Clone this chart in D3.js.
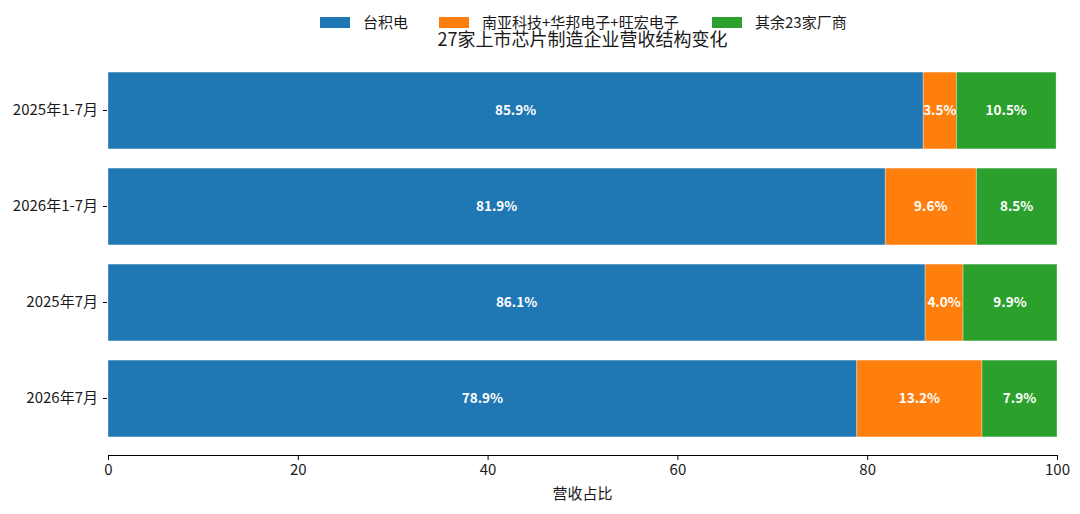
<!DOCTYPE html>
<html>
<head>
<meta charset="utf-8">
<script src="https://cdn.jsdelivr.net/npm/d3@7"></script>
<style>
  body { margin: 0; background: #fff; }
  text { font-family: "Noto Sans CJK SC", "Noto Sans", sans-serif; }
</style>
</head>
<body>
<div id="chart"></div>
<script>
// data
var periods = ["2025年1-7月", "2026年1-7月", "2025年7月", "2026年7月"];
var seriesNames = ["台积电", "南亚科技+华邦电子+旺宏电子", "其余23家厂商"];
var tsmc = [85.9, 81.9, 86.1, 78.9];
var memoryTrio = [3.5, 9.6, 4.0, 13.2];
var others = [10.5, 8.5, 9.9, 7.9];
var xTicks = [0, 20, 40, 60, 80, 100];

var colors = ["#1f77b4", "#ff7f0e", "#2ca02c"];
var W = 1080, H = 514;

var rows = periods.map(function (p, i) {
  return { period: p, s0: tsmc[i], s1: memoryTrio[i], s2: others[i] };
});
var stacked = d3.stack().keys(["s0", "s1", "s2"])(rows);

var svg = d3.select("#chart").append("svg")
  .attr("width", W)
  .attr("height", H);

var x = d3.scaleLinear().domain([0, 100]).range([108, 1057]);
var y = d3.scaleBand().domain(periods)
  .range([62.5, 446.5])
  .paddingInner(0.2)
  .paddingOuter(0.1);

// bars
var layers = svg.selectAll("g.layer").data(stacked).enter()
  .append("g")
  .attr("class", "layer")
  .attr("fill", function (d, i) { return colors[i]; });

layers.selectAll("rect").data(function (d) { return d; }).enter()
  .append("rect")
  .attr("x", function (d) { return x(d[0]); })
  .attr("y", function (d) { return y(d.data.period); })
  .attr("width", function (d) { return x(d[1]) - x(d[0]); })
  .attr("height", y.bandwidth())
  .attr("stroke", "#fff")
  .attr("stroke-opacity", 0.4)
  .attr("stroke-width", 0.8);

// value labels
layers.selectAll("text").data(function (d) { return d; }).enter()
  .append("text")
  .attr("x", function (d) { return (x(d[0]) + x(d[1])) / 2; })
  .attr("y", function (d) { return y(d.data.period) + y.bandwidth() / 2; })
  .attr("dy", "0.35em")
  .attr("text-anchor", "middle")
  .attr("fill", "#fff")
  .attr("font-weight", "bold")
  .attr("font-size", 13.5)
  .text(function (d) { return (d[1] - d[0]).toFixed(1) + "%"; });

// x axis
var xAxis = svg.append("g")
  .attr("transform", "translate(0,455)")
  .call(d3.axisBottom(x).tickValues(xTicks).tickSize(5).tickPadding(4).tickSizeOuter(0));
xAxis.select(".domain").attr("stroke", "#000").attr("stroke-width", 1);
xAxis.selectAll(".tick line").attr("stroke", "#000");
xAxis.selectAll("text").attr("font-size", 15).attr("fill", "#1a1a1a");

// y axis (ticks only, no spine)
var yAxis = svg.append("g")
  .attr("transform", "translate(107,0)")
  .call(d3.axisLeft(y).tickSize(4).tickPadding(5));
yAxis.select(".domain").remove();
yAxis.selectAll(".tick line").attr("stroke", "#000");
yAxis.selectAll("text").attr("font-size", 15).attr("fill", "#1a1a1a");

// axis label
svg.append("text")
  .attr("x", 582.5)
  .attr("y", 499)
  .attr("text-anchor", "middle")
  .attr("font-size", 15)
  .attr("fill", "#1a1a1a")
  .text("营收占比");

// title
svg.append("text")
  .attr("x", 582.5)
  .attr("y", 46)
  .attr("text-anchor", "middle")
  .attr("font-size", 18)
  .attr("fill", "#1a1a1a")
  .text("27家上市芯片制造企业营收结构变化");

// legend (sits on top of the title, as in the source)
var legendX = [320, 439, 712];
var legend = svg.selectAll("g.legend").data(seriesNames).enter()
  .append("g")
  .attr("class", "legend")
  .attr("transform", function (d, i) { return "translate(" + legendX[i] + ",0)"; });
legend.append("rect")
  .attr("x", 0).attr("y", 17)
  .attr("width", 30).attr("height", 11)
  .attr("fill", function (d, i) { return colors[i]; });
legend.append("text")
  .attr("x", 43).attr("y", 28)
  .attr("font-size", 15)
  .attr("fill", "#1a1a1a")
  .text(function (d) { return d; });
</script>
</body>
</html>
